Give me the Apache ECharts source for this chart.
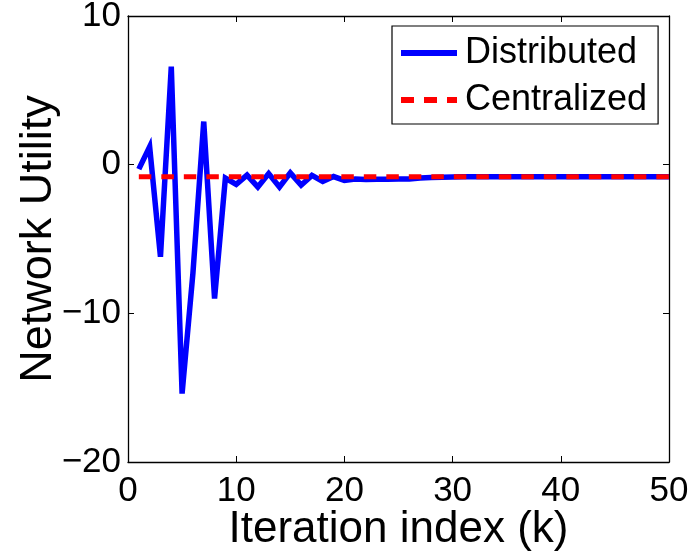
<!DOCTYPE html>
<html>
<head>
<meta charset="utf-8">
<script src="https://cdn.jsdelivr.net/npm/echarts@6/dist/echarts.min.js"></script>
<style>html,body{margin:0;padding:0;background:#fff;}#c{width:691px;height:558px;}</style>
</head>
<body>
<div id="c"></div>
<script>
var iterations = [1,2,3,4,5,6,7,8,9,10,11,12,13,14,15,16,17,18,19,20,21,22,23,24,25,26,27,28,29,30,31,32,33,34,35,36,37,38,39,40,41,42,43,44,45,46,47,48,49,50];
var distributed = [-0.3,1.2,-6.2,6.6,-15.4,-7.3,2.9,-9.0,-0.9,-1.33,-0.7,-1.5,-0.6,-1.5,-0.55,-1.38,-0.72,-1.12,-0.8,-1.06,-0.96,-1.0,-0.98,-0.98,-0.97,-0.96,-0.9,-0.86,-0.84,-0.83,-0.82,-0.82,-0.82,-0.82,-0.82,-0.82,-0.82,-0.82,-0.82,-0.82,-0.82,-0.82,-0.82,-0.82,-0.82,-0.82,-0.82,-0.82,-0.82,-0.82];
var centralized = [-0.82,-0.82,-0.82,-0.82,-0.82,-0.82,-0.82,-0.82,-0.82,-0.82,-0.82,-0.82,-0.82,-0.82,-0.82,-0.82,-0.82,-0.82,-0.82,-0.82,-0.82,-0.82,-0.82,-0.82,-0.82,-0.82,-0.82,-0.82,-0.82,-0.82,-0.82,-0.82,-0.82,-0.82,-0.82,-0.82,-0.82,-0.82,-0.82,-0.82,-0.82,-0.82,-0.82,-0.82,-0.82,-0.82,-0.82,-0.82,-0.82,-0.82];
var seriesNames = ['Distributed','Centralized'];
var xTitle = 'Iteration index (k)';
var yTitle = 'Network Utility';

function pairs(xs, ys){ return xs.map(function(x,i){ return [x, ys[i]]; }); }
var FONT = "'Liberation Sans', Arial, Helvetica, sans-serif";
function fmt(v){ return String(v).replace('-', '\u2212'); }

var chart = echarts.init(document.getElementById('c'), null, {renderer:'canvas'});
var axisLine = {show:true, onZero:false, lineStyle:{color:'#000', width:1.3}};
var axisTick = {show:true, inside:true, length:6, lineStyle:{color:'#000', width:1}};
chart.setOption({
  animation:false,
  backgroundColor:'#fff',
  grid:{left:128, right:22, top:16, bottom:96, containLabel:false, outerBoundsMode:'none'},
  legend:{
    orient:'vertical', left:392, top:26,
    backgroundColor:'#fff', borderColor:'#000', borderWidth:1.2,
    padding:[9,11,6,9], itemGap:11, itemWidth:56, itemHeight:6,
    textStyle:{fontFamily:FONT, fontSize:36, color:'#000', padding:[0,0,0,3]},
    data:[
      {name:seriesNames[0], icon:'path://M0,0H56V6H0Z', itemStyle:{color:'#0000ff'}},
      {name:seriesNames[1], icon:'path://M0,0H13V6H0Z M23,0H36V6H23Z M46,0H56V6H46Z', itemStyle:{color:'#ff0000'}}
    ]
  },
  xAxis:[{
    type:'value', min:0, max:50, interval:10, position:'bottom',
    name:xTitle, nameLocation:'middle', nameGap:46, nameMoveOverlap:false,
    nameTextStyle:{fontFamily:FONT, fontSize:44, color:'#000'},
    axisLine:axisLine, axisTick:axisTick, splitLine:{show:false},
    axisLabel:{fontFamily:FONT, fontSize:35, color:'#000', margin:12, formatter:fmt}
  },{
    type:'value', min:0, max:50, interval:10, position:'top',
    axisLine:axisLine, axisTick:axisTick, splitLine:{show:false}, axisLabel:{show:false}
  }],
  yAxis:[{
    type:'value', min:-20, max:10, interval:10, position:'left',
    name:yTitle, nameLocation:'middle', nameGap:67, nameMoveOverlap:false,
    nameTextStyle:{fontFamily:FONT, fontSize:45, color:'#000'},
    axisLine:axisLine, axisTick:axisTick, splitLine:{show:false},
    axisLabel:{fontFamily:FONT, fontSize:35, color:'#000', margin:7, formatter:fmt}
  },{
    type:'value', min:-20, max:10, interval:10, position:'right',
    axisLine:axisLine, axisTick:axisTick, splitLine:{show:false}, axisLabel:{show:false}
  }],
  series:[{
    name:seriesNames[0], type:'line', data:pairs(iterations, distributed),
    showSymbol:false, symbol:'none', z:2,
    lineStyle:{color:'#0000ff', width:5.5, join:'miter', cap:'butt'}, itemStyle:{color:'#0000ff'}
  },{
    name:seriesNames[1], type:'line', data:pairs(iterations, centralized),
    showSymbol:false, symbol:'none', z:3,
    lineStyle:{color:'#ff0000', width:5, type:[12.5,10], cap:'butt'}, itemStyle:{color:'#ff0000'}
  }]
});
</script>
</body>
</html>
